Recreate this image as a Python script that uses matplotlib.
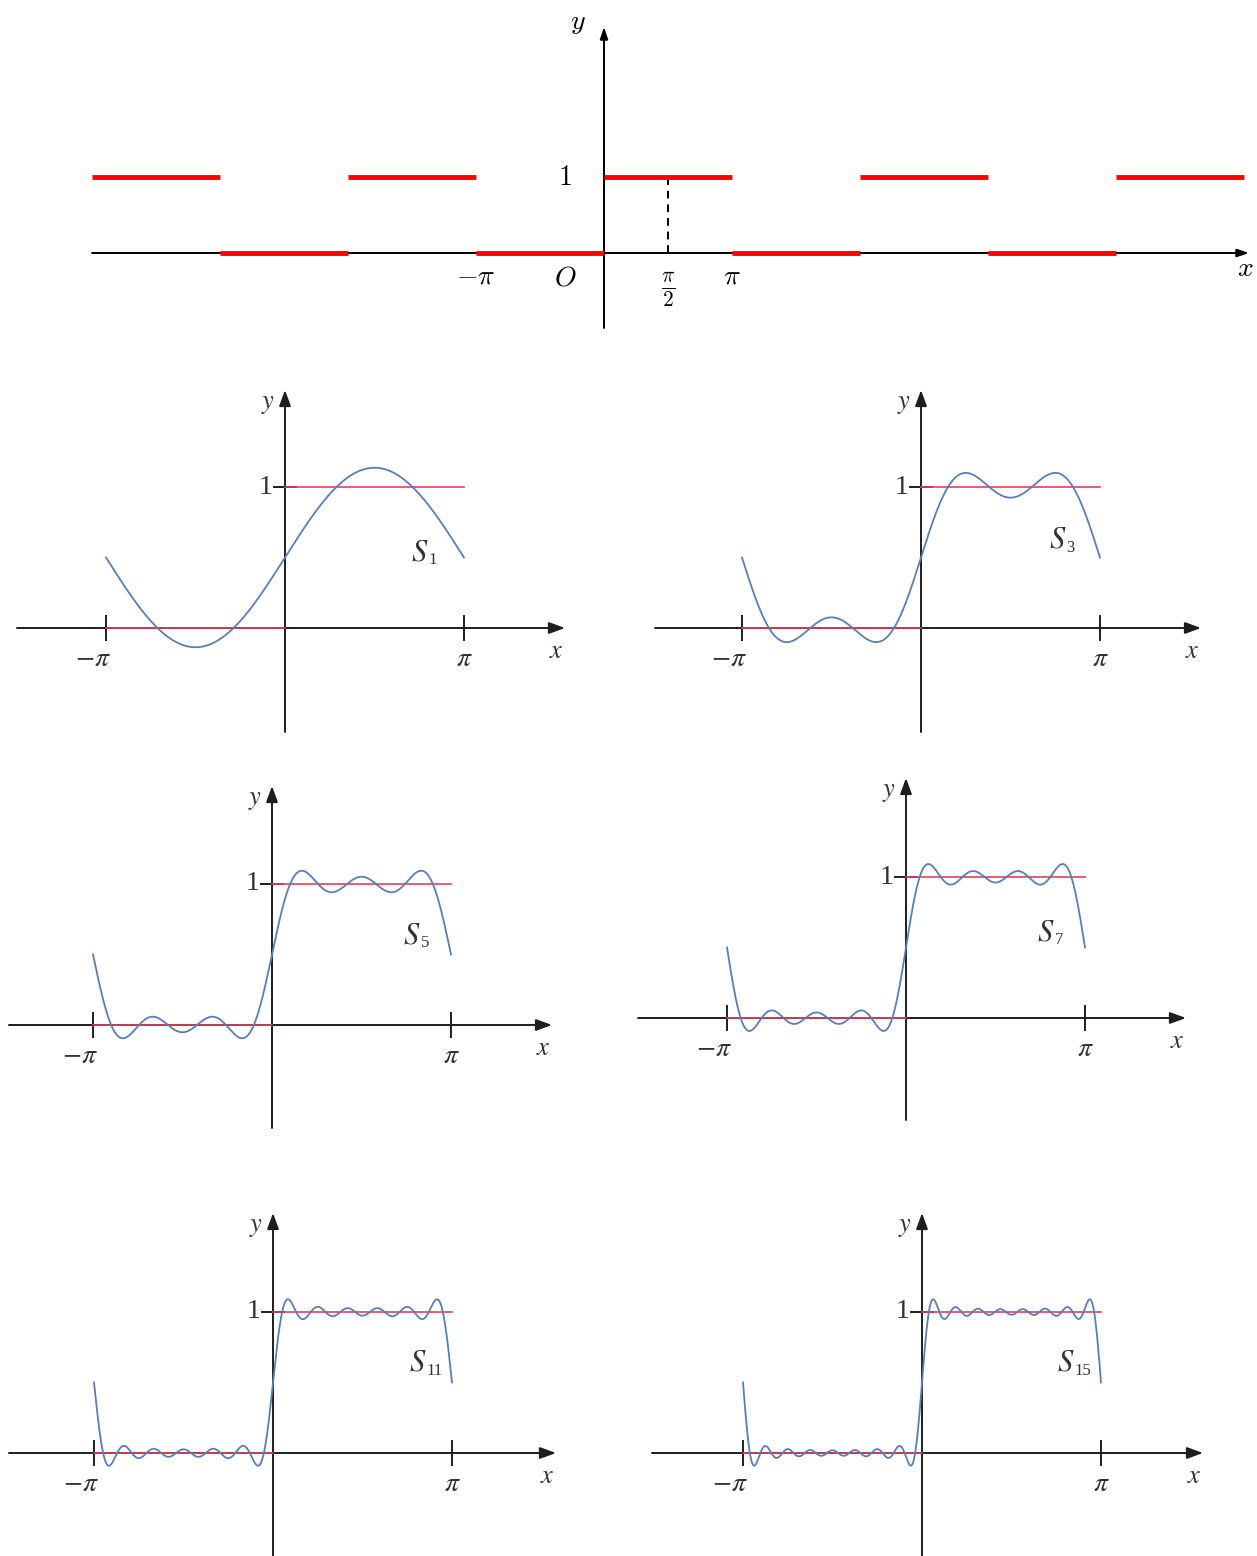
import numpy as np
import matplotlib
matplotlib.use('Agg')
import matplotlib.pyplot as plt

W, H = 1257, 1556

# Square wave for the top plot: level on each interval [k*pi, (k+1)*pi]
wave_edges = [-4, -3, -2, -1, 0, 1, 2, 3, 4, 5]   # multiples of pi
wave_levels = [1, 0, 1, 0, 1, 0, 1, 0, 1]

# Fourier series of the square wave: a0 + sum b_n sin(n x), odd n only
a0 = 0.5
harmonics = [1, 3, 5, 7, 9, 11, 13, 15]
sine_coeffs = [0.6366, 0.2122, 0.1273, 0.0909, 0.0707, 0.0579, 0.0490, 0.0424]

# Partial sums shown in the small plots
orders = [1, 3, 5, 7, 11, 15]
sub_labels = ['1', '3', '5', '7', '11', '15']
label_pos = [(2.37, 0.54), (2.40, 0.63), (2.46, 0.64), (2.46, 0.61), (2.54, 0.645), (2.53, 0.645)]

# Pixel layout of the small plots: origin x, origin y, x-axis left, x-axis right, y-axis bottom, y-axis top
panels = [
    (285, 628, 17, 565, 732, 390),
    (921, 628, 655, 1201, 732, 390),
    (272, 1025, 9, 552, 1128, 786),
    (906, 1018, 638, 1186, 1120, 778),
    (273, 1453, 9, 556, 1556, 1213),
    (922, 1453, 652, 1203, 1556, 1213),
]

BLUE = '#5a7fb2'
PINK = '#e5405f'
DARK = '#1e1e1e'
TXT = '#333333'

fig = plt.figure(figsize=(W / 100, H / 100), dpi=100)


def make_axes(ox, oy, sx, sy, x0, y0, x1, y1):
    # axes covering the pixel box (x0, y0)-(x1, y1), with the data origin at pixel (ox, oy)
    ax = fig.add_axes([x0 / W, 1 - y1 / H, (x1 - x0) / W, (y1 - y0) / H])
    ax.set_xlim((x0 - ox) / sx, (x1 - ox) / sx)
    ax.set_ylim((oy - y1) / sy, (oy - y0) / sy)
    ax.axis('off')
    return ax


def arrow(ax, start, end, style, lw, color, scale):
    ax.annotate('', xy=end, xytext=start,
                arrowprops=dict(arrowstyle=style, lw=lw, color=color,
                                shrinkA=0, shrinkB=0, mutation_scale=scale),
                annotation_clip=False)


def partial_sum(x, n):
    y = np.full_like(x, a0)
    for h, b in zip(harmonics, sine_coeffs):
        if h <= n:
            y = y + b * np.sin(h * x)
    return y


# Step 1: the square wave on top
sx_top = 128 / np.pi
sy_top = 76.0
ox_top, oy_top = 604, 253
top = make_axes(ox_top, oy_top, sx_top, sy_top, 60, 0, 1257, 345)
cm = dict(math_fontfamily='cm', fontsize=20, color='black', ha='center', va='center')

top_style = '-|>,head_length=0.5,head_width=0.17'
arrow(top, (-4 * np.pi, 0), ((1249 - ox_top) / sx_top, 0), top_style, 1.4, 'black', 14)
arrow(top, (0, (oy_top - 328) / sy_top), (0, (oy_top - 27) / sy_top), top_style, 1.4, 'black', 14)

for k in range(len(wave_levels)):
    top.plot([wave_edges[k] * np.pi, wave_edges[k + 1] * np.pi], [wave_levels[k], wave_levels[k]],
             color='#ff0000', lw=3.5, solid_capstyle='butt', zorder=3)
top.plot([np.pi / 2, np.pi / 2], [0, 1], color='black', lw=1.4, linestyle=(0, (4, 3)), zorder=2)

top.text(-39 / sx_top, 1, '$1$', **cm)
top.text(-39 / sx_top, -0.32, '$O$', **cm)
top.text(-np.pi, -0.3, r'$-\pi$', **cm)
top.text(np.pi, -0.3, r'$\pi$', **cm)
top.text(np.pi / 2, -0.48, r'$\frac{\pi}{2}$', **dict(cm, fontsize=22))
top.text((1245 - ox_top) / sx_top, -0.2, '$x$', **cm)
top.text((578 - ox_top) / sx_top, (oy_top - 22) / sy_top, '$y$', **cm)

# Step 2: the partial sums S_n
sx = 179 / np.pi
sy = 141.0
xs = np.linspace(-np.pi, np.pi, 1200)
st = dict(math_fontfamily='stix', color=TXT, ha='center', va='center')
small_style = '-|>,head_length=0.6,head_width=0.22'

for (ox, oy, xl, xr, yb, yt), n, sub, (lx, ly) in zip(panels, orders, sub_labels, label_pos):
    ax = make_axes(ox, oy, sx, sy, xl - 10, yt - 15, xr + 15, yb)

    # axes with arrows
    arrow(ax, ((xl - ox) / sx, 0), ((xr - ox) / sx, 0), small_style, 1.4, DARK, 16)
    arrow(ax, (0, (oy - yb) / sy), (0, (oy - yt) / sy), small_style, 1.4, DARK, 16)

    # tick marks at -pi, pi and 1
    for t in (-np.pi, np.pi):
        ax.plot([t, t], [-12 / sy, 12 / sy], color=DARK, lw=1.4)
    ax.plot([-11 / sx, 11 / sx], [1, 1], color=DARK, lw=1.4)

    # the square wave over one period
    for k in range(len(wave_levels)):
        if -1 <= wave_edges[k] < 1:
            ax.plot([wave_edges[k] * np.pi, wave_edges[k + 1] * np.pi],
                    [wave_levels[k], wave_levels[k]], color=PINK, lw=1.2, zorder=3)

    ax.plot(xs, partial_sum(xs, n), color=BLUE, lw=1.3, zorder=4)

    ax.text(-np.pi - 0.23, -0.21, r'$-\pi$', fontsize=20, **st)
    ax.text(np.pi, -0.21, r'$\pi$', fontsize=20, **st)
    ax.text((xr - ox) / sx - 0.16, -0.16, '$x$', fontsize=19, **st)
    ax.text(-0.30, (oy - yt) / sy - 0.09, '$y$', fontsize=19, **st)
    ax.text(-0.35, 1, '1', fontsize=20, family='Liberation Serif', color=TXT, ha='center', va='center')

    # label S_n: italic S with a small lowered subscript
    ax.text(lx, ly, '$S$', fontsize=22, **st)
    ax.text(lx + 0.15, ly - 0.06, sub, fontsize=12, family='Liberation Serif',
            color=TXT, ha='left', va='center')

fig.savefig('out.png', dpi=100)
